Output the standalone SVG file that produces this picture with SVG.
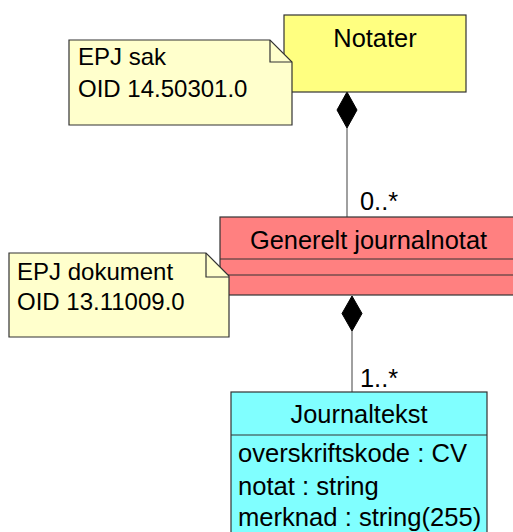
<svg xmlns="http://www.w3.org/2000/svg" width="513" height="532" viewBox="0 0 513 532">
<style>
text{font-family:"Liberation Sans",Arial,sans-serif;font-size:25.4px;fill:#000}
.box{stroke:#333;stroke-width:1.2}
.note{fill:#FFFFCC;stroke:#333;stroke-width:1.2}
.fold{fill:none;stroke:#333;stroke-width:1.2}
.conn{stroke:#808080;stroke-width:1.5;fill:none}
.dia{fill:#000;stroke:#000;stroke-width:1}
.nt{font-size:24px}
.attr{font-size:25.6px}
</style>
<g id="connectors">
<line class="conn" x1="347" y1="128" x2="347" y2="217"/>
<polygon class="dia" points="347,92 357,110 347,128 337,110"/>
<text x="360" y="210">0..*</text>
<line class="conn" x1="352" y1="331" x2="352" y2="392"/>
<polygon class="dia" points="352,296 362,313.5 352,331 342,313.5"/>
<text x="360" y="387">1..*</text>
</g>
<g id="notater">
<rect class="box" x="284" y="15" width="182" height="77" fill="#FFFF80"/>
<text x="375" y="47" text-anchor="middle">Notater</text>
</g>
<g id="note-epj-sak">
<path class="note" d="M69,40 H270 L292,62 V125 H69 Z"/>
<path class="fold" d="M270,40 V62 H292"/>
<text class="nt" x="78" y="65">EPJ sak</text>
<text class="nt" x="78" y="97">OID 14.50301.0</text>
</g>
<g id="generelt-journalnotat">
<rect class="box" x="220" y="217" width="298" height="78" fill="#FF8080"/>
<line class="box" x1="220" y1="259" x2="518" y2="259"/>
<line class="box" x1="220" y1="275" x2="518" y2="275"/>
<text x="368.5" y="249" text-anchor="middle">Generelt journalnotat</text>
</g>
<g id="note-epj-dokument">
<path class="note" d="M9,253 H206 L229,276 V337 H9 Z"/>
<path class="fold" d="M206,253 V277 H229"/>
<text class="nt" x="17" y="280">EPJ dokument</text>
<text class="nt" x="17" y="310">OID 13.11009.0</text>
</g>
<g id="journaltekst">
<rect class="box" x="231" y="392" width="256" height="150" fill="#80FFFF"/>
<line class="box" x1="231" y1="435" x2="487" y2="435"/>
<text x="359" y="423" text-anchor="middle">Journaltekst</text>
<text class="attr" x="238" y="462">overskriftskode : CV</text>
<text class="attr" x="238" y="495">notat : string</text>
<text class="attr" x="238" y="526">merknad : string(255)</text>
</g>
</svg>
